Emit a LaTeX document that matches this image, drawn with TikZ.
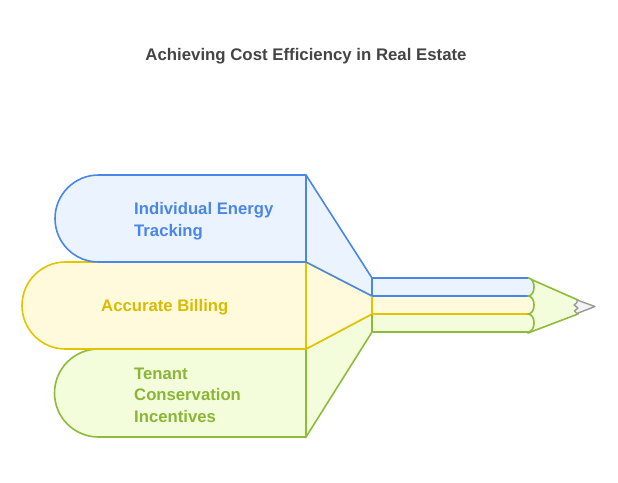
\documentclass[tikz,border=0pt]{standalone}
\usepackage{fontspec}
\setmainfont{Liberation Sans}
\definecolor{bstroke}{HTML}{4A86E8}
\definecolor{bfill}{HTML}{EBF3FE}
\definecolor{ystroke}{HTML}{E2C400}
\definecolor{yfill}{HTML}{FFFADC}
\definecolor{gstroke}{HTML}{8DBB3A}
\definecolor{gfill}{HTML}{F3FDDC}
\definecolor{ytext}{HTML}{D9BC00}
\definecolor{gtext}{HTML}{8AB535}
\definecolor{tipstroke}{HTML}{9A9A9A}
\definecolor{tipfill}{HTML}{F3F3F3}
\definecolor{titlec}{HTML}{444444}
\tikzset{
  shp/.style={line width=1.6pt, line join=round},
  lbl/.style={font=\fontsize{16.7}{21.5}\selectfont\bfseries, anchor=west, align=left, inner sep=0pt},
}
\begin{document}
\begin{tikzpicture}[x=1pt,y=-1pt]
\useasboundingbox (0,0) rectangle (618,482);
\node[font=\fontsize{16.8}{20}\selectfont\bfseries, text=titlec] (title) at (306,56.5) {Achieving Cost Efficiency in Real Estate};
% green
\draw[shp, draw=gstroke, fill=gfill] (306,349) -- (98.5,349) arc[start angle=270, end angle=90, radius=44] -- (306,437) -- cycle;
\draw[shp, draw=gstroke, fill=gfill] (306,349) -- (372,314) -- (372,332) -- (306,437) -- cycle;
% yellow
\draw[shp, draw=ystroke, fill=yfill] (306,262) -- (65.5,262) arc[start angle=270, end angle=90, radius=43.5] -- (306,349) -- cycle;
\draw[shp, draw=ystroke, fill=yfill] (306,262) -- (372,296) -- (372,314) -- (306,349) -- cycle;
% blue
\draw[shp, draw=bstroke, fill=bfill] (306,175) -- (98.5,175) arc[start angle=270, end angle=90, radius=43.5] -- (306,262) -- cycle;
\draw[shp, draw=bstroke, fill=bfill] (306,175) -- (372,278) -- (372,296) -- (306,262) -- cycle;
% pencil tip
\draw[shp, draw=gstroke, fill=gfill] (528,278) -- (578,300) -- (578,314) -- (528,333) -- cycle;
\draw[line width=1.4pt, draw=tipstroke, fill=tipfill, line join=round] (577,300) -- (595,306.5) -- (577,313.5) -- (574.5,311) -- (578,308) -- (574,305) -- (577,302.5) -- cycle;
% strips
\fill[gfill] (372,314) -- (528,314) .. controls (536,314) and (536,332) .. (528,332) -- (372,332) -- cycle;
\fill[yfill] (372,296) -- (528,296) .. controls (536,296) and (536,314) .. (528,314) -- (372,314) -- cycle;
\fill[bfill] (372,278) -- (528,278) .. controls (536,278) and (536,296) .. (528,296) -- (372,296) -- cycle;
\draw[shp, draw=gstroke] (372,314) -- (372,332) -- (528,332);
\draw[shp, draw=ystroke] (372,296) -- (372,314) -- (528,314);
\draw[shp, draw=bstroke] (372,296) -- (372,278) -- (528,278);
\draw[shp, draw=bstroke] (372,296) -- (528,296);
\draw[shp, draw=gstroke] (528,278) .. controls (536,278) and (536,296) .. (528,296)
  .. controls (536,296) and (536,314) .. (528,314)
  .. controls (536,314) and (536,332) .. (528,332);
% labels
\node[lbl, text=bstroke] (l1) at (134,221) {Individual Energy\\Tracking};
\node[lbl, text=ytext] (l2) at (101,307.5) {Accurate Billing};
\node[lbl, text=gtext] (l3) at (134,395) {Tenant\\Conservation\\Incentives};
\end{tikzpicture}
\end{document}
